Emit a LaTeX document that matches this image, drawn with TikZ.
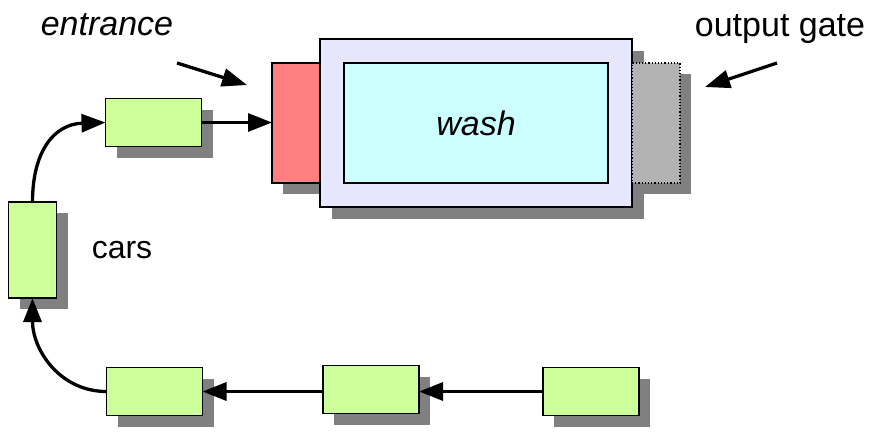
\documentclass[tikz,border=0pt]{standalone}
\usepackage{fontspec}
\setmainfont{Liberation Sans}
\usetikzlibrary{arrows.meta,shadows}
\definecolor{carfill}{HTML}{CCFF99}
\definecolor{entfill}{HTML}{FF8080}
\definecolor{outfill}{HTML}{E6E6FF}
\definecolor{washfill}{HTML}{CCFFFF}
\definecolor{gatefill}{HTML}{B3B3B3}
\definecolor{shadowgray}{HTML}{808080}
\tikzset{
  box/.style={draw=black, line width=1.8pt, inner sep=0pt, outer sep=0pt, rectangle},
  shad/.style={drop shadow={opacity=1, fill=shadowgray, shadow xshift=#1, shadow yshift=-#1}},
  shad/.default=11pt,
  car/.style={box, fill=carfill, minimum width=96pt, minimum height=48pt, shad},
  carv/.style={box, fill=carfill, minimum width=48pt, minimum height=96pt, shad},
  conn/.style={line width=3.3pt, -{Triangle[length=24pt,width=18pt]}},
  lbl/.style={inner sep=0pt, anchor=base, font=\fontsize{34}{40}\selectfont},
}
\begin{document}
\begin{tikzpicture}[x=1pt, y=-1pt]
\useasboundingbox (0,0) rectangle (890,432);
% wash unit
\node[box, fill=entfill, minimum width=48pt, minimum height=120pt, shad] (ent) at (296,123) {};
\node[box, fill=outfill, minimum width=312pt, minimum height=168pt, shad=12pt] (outer) at (476,123) {};
\node[box, fill=washfill, minimum width=264pt, minimum height=120pt] (wash) at (476,123) {};
\node[box, fill=gatefill, line width=1.2pt, dotted, minimum width=48pt, minimum height=120pt, shad] (gate) at (656,123) {};
\node[lbl, font=\fontsize{34}{40}\selectfont\itshape] (washlbl) at (476,135) {wash};
% labels
\node[lbl, font=\fontsize{34}{40}\selectfont\itshape] (entlbl) at (107,35) {entrance};
\node[lbl] (gatelbl) at (780,36.5) {output gate};
\node[lbl, font=\fontsize{32}{38}\selectfont] (carslbl) at (122,258) {cars};
% cars
\node[car] (c1) at (153.5,122.5) {};
\node[carv] (cv) at (32.5,250) {};
\node[car] (b1) at (154.5,391.5) {};
\node[car] (b2) at (371,389.5) {};
\node[car] (b3) at (591,391.5) {};
% pointer arrows
\coordinate (ea) at (177,63);
\coordinate (eb) at (247,85);
\coordinate (ga) at (777,63);
\coordinate (gb) at (705,87);
\draw[conn, -{Triangle[length=25pt,width=18pt]}] (ea) -- (eb);
\draw[conn, -{Triangle[length=25pt,width=18pt]}] (ga) -- (gb);
% connectors
\draw[conn] (c1.east) -- (ent.west |- c1.east);
\draw[conn] (cv.north) .. controls (32.5,150) and (55,124) .. (c1.west);
\draw[conn] (b1.west) .. controls (60,391.5) and (32.5,350) .. (cv.south);
\draw[conn] (b2.west |- b1.east) -- (b1.east);
\draw[conn] (b3.west) -- (b2.east |- b3.west);
\end{tikzpicture}
\end{document}
